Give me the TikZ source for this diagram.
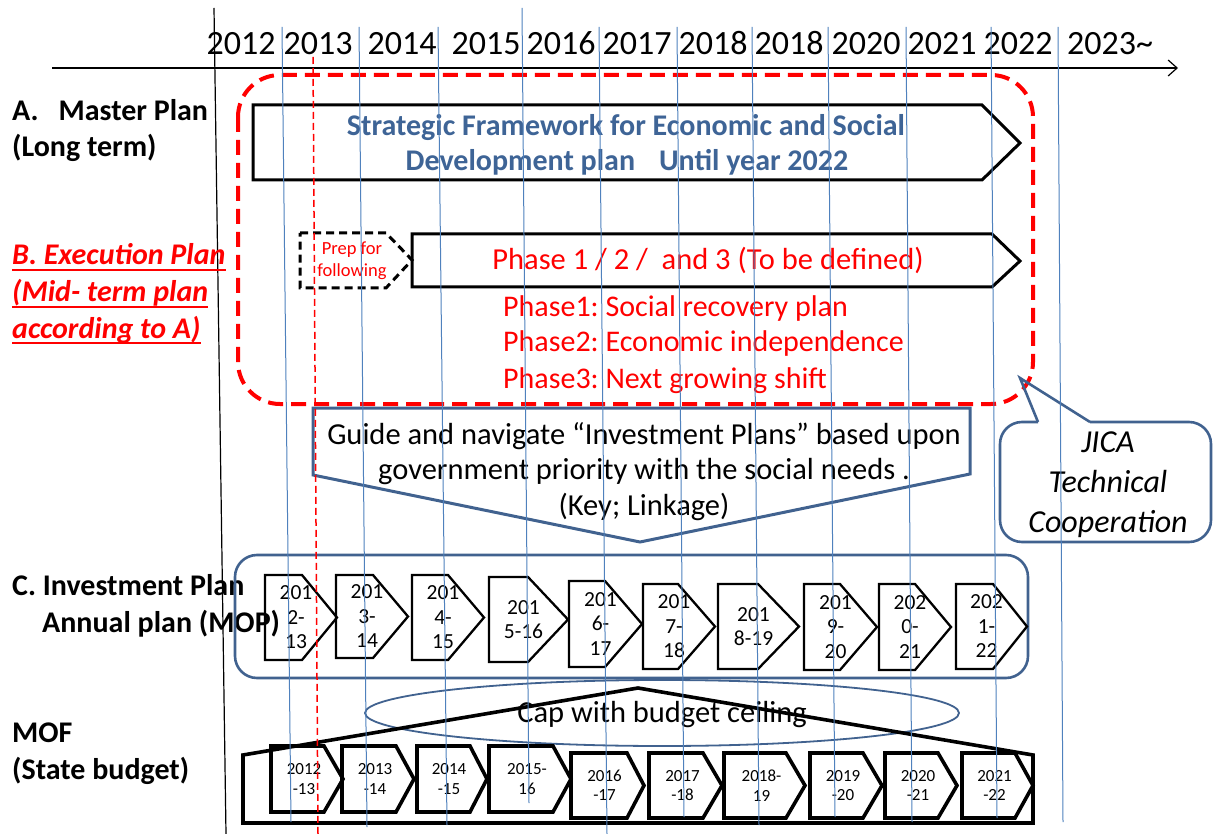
\documentclass[tikz,border=0pt]{standalone}
\usepackage{fontspec}
\setmainfont{Carlito}
\usetikzlibrary{arrows.meta}
\definecolor{frameblue}{RGB}{65,98,143}
\definecolor{textblue}{RGB}{62,100,150}
\definecolor{gridblue}{RGB}{79,129,189}
\definecolor{planred}{RGB}{255,0,0}
\newcommand\fsz[1]{\fontsize{#1}{1.2\dimexpr#1pt\relax}\selectfont}
\frenchspacing

\begin{document}
\begin{tikzpicture}[x=1pt,y=-1pt,
  lbl/.style={inner sep=0pt, anchor=base west},
  ctr/.style={inner sep=0pt, anchor=base},
  blk/.style={draw=black, line width=3pt, line join=miter},
  invpent/.style={draw=black, line width=2.3pt},
  mofpent/.style={draw=black, line width=3.6pt},
  invtxt/.style={inner sep=0pt, align=center, font=\fontsize{21.5}{24.5}\selectfont},
  moftxt/.style={inner sep=0pt, align=center, font=\fontsize{17}{19.5}\selectfont},
  gridline/.style={draw=gridblue, line width=1pt},
  reddash/.style={draw=planred, line width=4pt, dash pattern=on 15pt off 8pt},
  bluebox/.style={draw=frameblue, line width=2.6pt}]
\useasboundingbox (0,0) rectangle (1213,834);

% time axis and left border
\draw[line width=1.2pt, -{Straight Barb[length=9pt,width=16pt]}] (52,68) -- (1178,68);
\draw[line width=1.2pt] (214,8) -- (226,834);

% year labels
\foreach \x/\yr [count=\i] in {241/2012,318/2013,402/2014,486/2015,561/2016,637/2017,
    713/2018,789/2018,866/2020,942/2021,1018/2022,1110/2023\textasciitilde}
  \node[ctr, font=\fsz{34}] (yr\i) at (\x,55) {\yr};

% row labels
\node[lbl, font=\fsz{30}\bfseries] (lblA1) at (12,121) {A.\hspace{20pt}Master Plan};
\node[lbl, font=\fsz{30}\bfseries] (lblA2) at (12,157) {(Long term)};
\node[lbl, font=\fsz{30}\bfseries\itshape, text=planred] (lblB1) at (12,265) {B. Execution Plan};
\node[lbl, font=\fsz{30}\bfseries\itshape, text=planred] (lblB2) at (12,302) {(Mid- term plan};
\node[lbl, font=\fsz{30}\bfseries\itshape, text=planred] (lblB3) at (12,338) {according to A)};
\foreach \n in {lblB1,lblB2,lblB3}
  \draw[planred, line width=2.2pt] ([yshift=-5pt]\n.base west) -- ([yshift=-5pt]\n.base east);
\node[lbl, font=\fsz{30}\bfseries] (lblC1) at (12,595) {C. Investment Plan};
\node[lbl, font=\fsz{30}\bfseries] (lblC2) at (42,632) {Annual plan (MOP)};
\node[lbl, font=\fsz{30}\bfseries] (lblD1) at (12,742) {MOF};
\node[lbl, font=\fsz{30}\bfseries] (lblD2) at (12,779) {(State budget)};

% execution-plan frame
\draw[reddash, rounded corners=42pt] (238,75) rectangle (1033,404);

% A: master plan arrow
\draw[blk] (253,105) -- (982,105) -- (1020,143) -- (982,180) -- (253,180) -- cycle;
\node[ctr, font=\fsz{30}\bfseries, text=textblue] (mp1) at (626,136) {Strategic Framework for Economic and Social};
\node[ctr, font=\fsz{30}\bfseries, text=textblue] (mp2) at (627,171) {Development plan\hspace{24pt}Until year 2022};

% B: preparation and phase arrows
\draw[black, line width=3pt, dash pattern=on 8pt off 5pt] (300,233) -- (386,233) -- (412,260) -- (386,288) -- (300,288) -- cycle;
\node[ctr, font=\fsz{18.5}, text=planred] (prep1) at (352,255) {Prep for};
\node[ctr, font=\fsz{18.5}, text=planred] (prep2) at (352,277) {following};
\draw[blk] (412,234) -- (992,234) -- (1020,261) -- (992,287) -- (412,287) -- cycle;
\node[ctr, font=\fsz{30.5}, text=planred] (phase) at (708,270) {Phase 1 / 2 /\ \ and 3 (To be defined)};
\node[lbl, font=\fsz{30}, text=planred] (ph1) at (503,317) {Phase1: Social recovery plan};
\node[lbl, font=\fsz{30}, text=planred] (ph2) at (503,352) {Phase2: Economic independence};
\node[lbl, font=\fsz{30}, text=planred] (ph3) at (503,388) {Phase3: Next growing shift};

% guidance arrow
\draw[bluebox, line width=3pt] (313,408) -- (970,408) -- (970,474) -- (640,542) -- (313,475) -- cycle;
\node[ctr, font=\fsz{30.5}] (g1) at (644,444) {Guide and navigate “Investment Plans” based upon};
\node[ctr, font=\fsz{30.5}] (g2) at (644,479) {government priority with the social needs .};
\node[ctr, font=\fsz{30.5}] (g3) at (644,515) {(Key; Linkage)};

% JICA callout
\draw[bluebox, rounded corners=22pt] (1090,422) -- (1211,422) -- (1211,542) -- (1000,542) -- (1000,422) -- (1038,422);
\draw[bluebox, line join=miter] (1038,422) -- (1020,378) -- (1090,422);
\node[ctr, font=\fsz{32}\itshape] (jica1) at (1108,452) {JICA};
\node[ctr, font=\fsz{32}\itshape] (jica2) at (1108,492) {Technical};
\node[ctr, font=\fsz{32}\itshape] (jica3) at (1108,532) {Cooperation};

% C: annual investment plans
\draw[bluebox, rounded corners=22pt] (235,555) rectangle (1028,678);
\foreach \l/\r/\t/\a/\b/\txt [count=\i] in {
    265/302/337/575/660/{201\\2-\\13},
    336/373/408/575/658/{201\\3-\\14},
    412/448/484/575/660/{201\\4-\\15},
    489/528/568/577/662/{201\\5-16},
    569/605/642/581/667/{201\\6-\\17},
    643/678/715/584/669/{201\\7-\\18},
    718/758/799/584/669/{201\\8-19},
    804/840/877/584/670/{201\\9-\\20},
    879/915/951/584/670/{202\\0-\\21},
    956/993/1027/584/669/{202\\1-\\22}}{
  \draw[invpent] (\l,\a) -- (\r,\a) -- (\t,{(\a+\b)/2}) -- (\r,\b) -- (\l,\b) -- cycle;
  \node[invtxt] (inv\i) at ({(\l+\t)/2-5},{(\a+\b)/2}) {\txt};
}

% MOF: budget ceiling and state budget
\draw[draw=frameblue, line width=1.8pt] (662,713) ellipse [x radius=297pt, y radius=33pt];
\draw[mofpent, line join=miter] (243,823) -- (243,755) -- (638,688) -- (1033,755) -- (1033,823) -- cycle;
\node[ctr, font=\fsz{30.5}] (cap) at (662,722) {Cap with budget ceiling};
\foreach \l/\r/\t/\a/\b/\txt [count=\i] in {
    271/324/343/746/812/{2012\\-13},
    342/396/414/746/812/{2013\\-14},
    417/470/487/746/812/{2014\\-15},
    489/553/571/746/812/{2015-\\16},
    571/627/644/753/818/{2016\\-17},
    649/703/722/753/818/{2017\\-18},
    724/786/805/753/818/{2018-\\19},
    810/863/882/753/818/{2019\\-20},
    885/938/957/753/818/{2020\\-21},
    962/1015/1033/753/818/{2021\\-22}}{
  \draw[mofpent] (\l,\a) -- (\r,\a) -- (\t,{(\a+\b)/2}) -- (\r,\b) -- (\l,\b) -- cycle;
  \node[moftxt] (mof\i) at ({(\l+\t)/2-3},{(\a+\b)/2}) {\txt};
}

% year grid lines and the current-year marker
\foreach \xa/\ya/\xb/\yb in {282/27/291/822, 359/27/367/827, 438/27/447/825, 522/8/529/803,
    599/27/607/834, 677/27/684/817, 752/27/759/825, 828/27/835/817, 906/27/912/822,
    991/27/997/818, 1058/27/1063/822}
  \draw[gridline] (\xa,\ya) -- (\xb,\yb);
\draw[planred, line width=1.5pt, dash pattern=on 7pt off 4pt] (313,57) -- (318,834);
\end{tikzpicture}
\end{document}
